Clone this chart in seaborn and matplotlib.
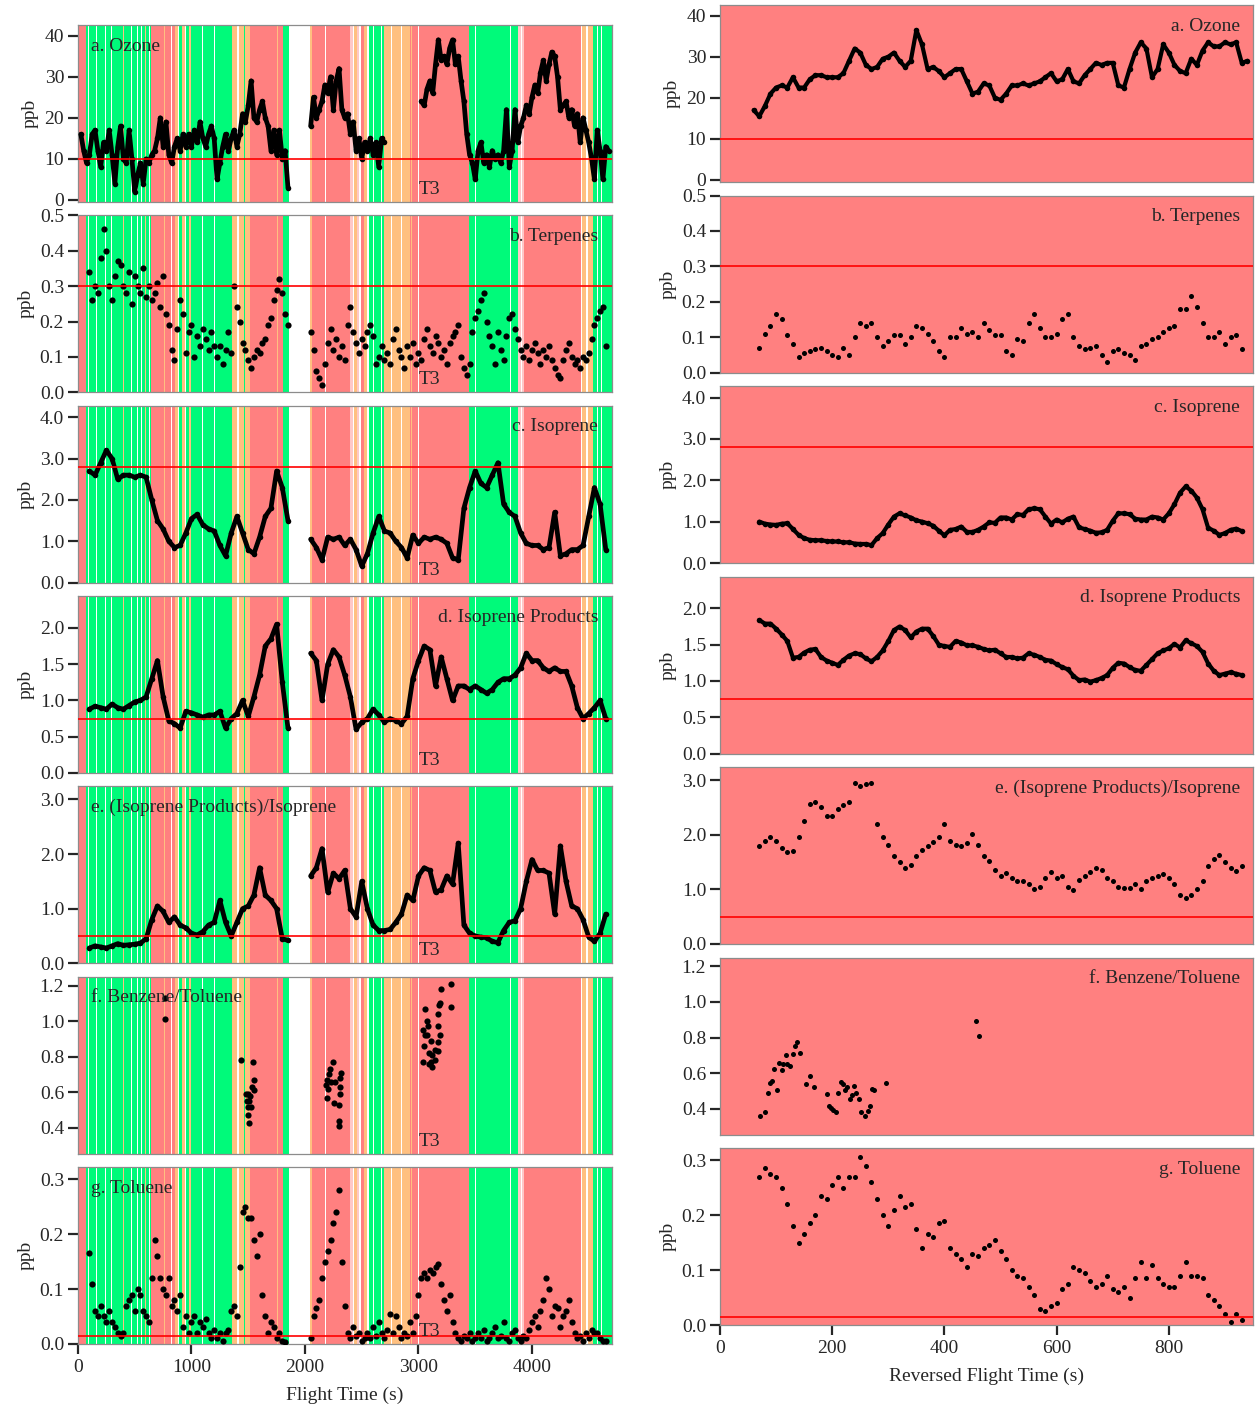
import numpy as np
import pandas as pd
import matplotlib
matplotlib.use("Agg")
import matplotlib.pyplot as plt
from matplotlib.ticker import FormatStrFormatter
import seaborn as sns

sns.set_style("ticks")
plt.rcParams["font.family"] = ["Liberation Serif", "DejaVu Serif"]
plt.rcParams["font.size"] = 14

# ---------------- left column: flight time (s) ----------------
# each series: segment start times, sampling step, values per segment
ozone_L_start = [25, 2050, 3025]
ozone_L_step = 25
ozone_L = [
    [16, 12, 9, 11, 16, 17, 12, 8, 14, 12, 17, 11, 4, 13, 18, 10, 9, 17, 10, 2, 6, 9, 4,
     10, 9, 11, 12, 15, 20, 13, 19, 11, 9, 13, 15, 12, 16, 13, 16, 13, 17, 14, 19, 15,
     13, 16, 18, 15, 5, 9, 13, 16, 12, 15, 17, 13, 16, 21, 19, 23, 29, 20, 19, 22, 24,
     20, 18, 12, 17, 11, 17, 10, 12, 3],
    [18, 25, 20, 22, 24, 28, 26, 30, 22, 29, 32, 22, 20, 21, 16, 19, 12, 15, 10, 14, 12,
     15, 11, 14, 8, 15, 14],
    [24, 23, 27, 29, 26, 33, 39, 34, 35, 33, 37, 39, 33, 35, 29, 24, 16, 11, 9, 5, 12, 14,
     9, 11, 8, 12, 10, 11, 9, 12, 22, 8, 12, 22, 14, 18, 20, 23, 21, 25, 28, 26, 31, 34,
     29, 33, 36, 35, 30, 22, 23, 24, 20, 22, 18, 21, 14, 20, 17, 14, 10, 5, 17, 12, 5,
     13, 12],
]

terp_L_start = [100, 2050]
terp_L_step = 25
terp_L = [
    [0.34, 0.26, 0.30, 0.28, 0.38, 0.46, 0.40, 0.30, 0.26, 0.33, 0.37, 0.36, 0.30, 0.28,
     0.34, 0.25, 0.33, 0.30, 0.28, 0.35, 0.27, 0.30, 0.26, 0.28, 0.31, 0.24, 0.33, 0.22,
     0.19, 0.12, 0.09, 0.18, 0.26, 0.22, 0.11, 0.17, 0.19, 0.10, 0.16, 0.13, 0.18, 0.15,
     0.12, 0.17, 0.13, 0.10, 0.13, 0.08, 0.12, 0.17, 0.11, 0.30, 0.24, 0.20, 0.14, 0.12,
     0.09, 0.07, 0.10, 0.12, 0.11, 0.14, 0.15, 0.19, 0.21, 0.26, 0.29, 0.32, 0.28, 0.22, 0.19],
    [0.17, 0.12, 0.06, 0.04, 0.02, 0.08, 0.14, 0.18, 0.12, 0.15, 0.10, 0.13, 0.09, 0.19,
     0.24, 0.17, 0.14, 0.11, 0.15, 0.13, 0.17, 0.19, 0.16, 0.08, 0.10, 0.13, 0.09, 0.11,
     0.08, 0.15, 0.18, 0.12, 0.10, 0.07, 0.13, 0.10, 0.14, 0.08, 0.11, 0.09, 0.15, 0.18,
     0.13, 0.11, 0.16, 0.14, 0.10, 0.12, 0.08, 0.14, 0.16, 0.17, 0.19, 0.10, 0.07, 0.05,
     0.08, 0.17, 0.21, 0.23, 0.26, 0.28, 0.20, 0.16, 0.13, 0.08, 0.17, 0.12, 0.09, 0.16,
     0.21, 0.22, 0.18, 0.15, 0.12, 0.10, 0.13, 0.09, 0.12, 0.14, 0.11, 0.08, 0.12, 0.10,
     0.13, 0.09, 0.07, 0.05, 0.04, 0.09, 0.12, 0.14, 0.10, 0.08, 0.09, 0.07, 0.10, 0.09,
     0.11, 0.15, 0.19, 0.21, 0.23, 0.24, 0.13],
]

isop_L_start = [100, 2050]
isop_L_step = 50
isop_L = [
    [2.7, 2.6, 2.9, 3.2, 3.0, 2.5, 2.6, 2.6, 2.55, 2.6, 2.55, 2.0, 1.5, 1.3, 1.0, 0.85,
     0.9, 1.2, 1.55, 1.65, 1.4, 1.3, 1.25, 0.9, 0.65, 1.2, 1.6, 1.2, 0.8, 0.7, 1.1, 1.6,
     1.8, 2.7, 2.3, 1.5],
    [1.05, 0.85, 0.55, 1.1, 1.05, 1.1, 0.9, 1.05, 0.8, 0.4, 0.7, 1.2, 1.6, 1.25, 1.2,
     1.0, 0.85, 0.6, 1.15, 0.95, 1.1, 1.05, 1.1, 1.05, 0.95, 0.6, 0.55, 1.8, 2.3, 2.7,
     2.4, 2.3, 2.6, 2.9, 1.9, 1.7, 1.6, 1.2, 0.95, 0.9, 0.9, 0.8, 0.85, 1.7, 0.65, 0.7,
     0.8, 0.8, 0.9, 1.6, 2.3, 1.9, 0.8],
]

prod_L_start = [100, 2050]
prod_L_step = 50
prod_L = [
    [0.88, 0.92, 0.9, 0.88, 0.95, 0.9, 0.88, 0.93, 0.98, 1.0, 1.05, 1.3, 1.55, 1.05,
     0.72, 0.68, 0.62, 0.85, 0.83, 0.8, 0.77, 0.8, 0.8, 0.85, 0.62, 0.75, 0.82, 1.0,
     0.78, 1.05, 1.35, 1.75, 1.85, 2.05, 1.25, 0.62],
    [1.65, 1.55, 1.0, 1.5, 1.7, 1.6, 1.35, 1.05, 0.6, 0.7, 0.75, 0.88, 0.8, 0.7, 0.75,
     0.72, 0.68, 0.78, 1.3, 1.55, 1.75, 1.7, 1.2, 1.6, 1.3, 1.0, 1.2, 1.2, 1.15, 1.2,
     1.15, 1.1, 1.15, 1.25, 1.3, 1.3, 1.35, 1.45, 1.65, 1.55, 1.55, 1.45, 1.4, 1.45,
     1.4, 1.4, 1.2, 0.9, 0.75, 0.82, 0.9, 1.0, 0.75],
]

ratio_L_start = [100, 2050]
ratio_L_step = 50
ratio_L = [
    [0.28, 0.32, 0.3, 0.28, 0.32, 0.36, 0.33, 0.34, 0.35, 0.37, 0.45, 0.8, 1.05, 0.95,
     0.75, 0.85, 0.7, 0.65, 0.55, 0.52, 0.58, 0.7, 0.75, 1.15, 0.75, 0.5, 0.75, 1.0,
     1.05, 1.25, 1.75, 1.25, 1.15, 1.0, 0.45, 0.42],
    [1.6, 1.75, 2.1, 1.3, 1.65, 1.55, 1.7, 1.0, 0.85, 1.5, 1.0, 0.7, 0.6, 0.6, 0.62,
     0.75, 0.9, 1.25, 1.15, 1.6, 1.75, 1.7, 1.3, 1.35, 1.6, 1.45, 2.2, 0.7, 0.55, 0.5,
     0.48, 0.47, 0.4, 0.38, 0.6, 0.75, 0.78, 1.0, 1.5, 1.9, 1.7, 1.7, 1.65, 0.9, 2.15,
     1.5, 1.05, 1.0, 0.8, 0.48, 0.4, 0.55, 0.9],
]

bt_L_time = [765, 765, 1437, 1541, 1478, 1496, 1506, 1496, 1520, 1499, 1506, 1548, 1534,
             1548, 1513, 1485, 2243, 2209, 2191, 2226, 2181, 2202, 2191, 2254, 2313, 2306,
             2306, 2306, 2296, 2296, 2296, 2216, 2264, 3037, 3061, 3071, 3085, 3043, 3061,
             3078, 3050, 3113, 3096, 3120, 3113, 3096, 3120, 3148, 3169, 3176, 3169, 3176,
             3183, 3190, 3200, 3190, 3287, 3287, 3144]
bt_L = [1.01, 1.13, 0.78, 0.77, 0.59, 0.59, 0.55, 0.52, 0.52, 0.47, 0.43, 0.67, 0.63,
        0.61, 0.58, 0.55, 0.77, 0.70, 0.67, 0.66, 0.64, 0.62, 0.57, 0.54, 0.71, 0.68,
        0.63, 0.59, 0.53, 0.44, 0.41, 0.73, 0.66, 0.77, 1.07, 1.00, 0.97, 0.95, 0.92,
        0.92, 0.86, 0.89, 0.82, 0.81, 0.77, 0.76, 0.74, 0.78, 0.83, 0.88, 0.97, 1.04,
        1.09, 1.10, 1.18, 0.92, 1.21, 1.08, 0.84]

tol_L_start = [100, 2050]
tol_L_step = 25
tol_L = [
    [0.165, 0.11, 0.06, 0.05, 0.07, 0.05, 0.04, 0.06, 0.04, 0.03, 0.02, 0.015, 0.02,
     0.07, 0.08, 0.09, 0.06, 0.1, 0.09, 0.06, 0.05, 0.04, 0.12, 0.19, 0.16, 0.12, 0.1,
     0.09, 0.12, 0.07, 0.08, 0.06, 0.09, 0.03, 0.05, 0.02, 0.04, 0.05, 0.02, 0.04, 0.03,
     0.045, 0.02, 0.01, 0.025, 0.01, 0.02, 0.005, 0.02, 0.025, 0.06, 0.07, 0.05, 0.14,
     0.24, 0.25, 0.23, 0.23, 0.19, 0.16, 0.2, 0.09, 0.05, 0.02, 0.04, 0.03, 0.01, 0.02,
     0.005, 0.003],
    [0.01, 0.05, 0.065, 0.08, 0.12, 0.15, 0.17, 0.19, 0.22, 0.24, 0.28, 0.15, 0.07,
     0.02, 0.01, 0.03, 0.015, 0.02, 0.005, 0.01, 0.02, 0.01, 0.03, 0.015, 0.04, 0.02,
     0.01, 0.025, 0.055, 0.02, 0.05, 0.03, 0.01, 0.02, 0.015, 0.04, 0.02, 0.05, 0.09,
     0.12, 0.13, 0.12, 0.135, 0.13, 0.14, 0.145, 0.11, 0.08, 0.06, 0.09, 0.04, 0.02,
     0.01, 0.005, 0.015, 0.01, 0.02, 0.005, 0.01, 0.02, 0.01, 0.025, 0.005, 0.01, 0.02,
     0.03, 0.01, 0.015, 0.04, 0.01, 0.005, 0.02, 0.025, 0.01, 0.005, 0.015, 0.01, 0.025,
     0.04, 0.05, 0.03, 0.06, 0.08, 0.12, 0.1, 0.05, 0.07, 0.065, 0.03, 0.05, 0.06, 0.08,
     0.04, 0.02, 0.01, 0.015, 0.005, 0.02, 0.01, 0.025, 0.02, 0.02, 0.01, 0.005, 0.005],
]

# background classification along the flight (start, end, class)
bg_start = [0, 70, 643, 852, 1026, 1357, 1513, 1809, 2042, 2065, 2400, 2643, 2922, 3443,
            3878, 3930, 4435, 4539,
            92, 120, 160, 240, 292, 360, 398, 468, 520, 556, 590, 625, 710, 760, 820, 885,
            892, 945, 952, 995, 1095, 1200, 1268, 1320, 1405, 1460, 1750, 1795, 2085, 2180,
            2420, 2435, 2480, 2495, 2520, 2545, 2560, 2600, 2610, 2643, 2670, 2760, 2850,
            2935, 3000, 3500, 3550, 3810, 3900, 4435, 4480, 4575, 4610]
bg_end = [70, 643, 852, 1026, 1357, 1513, 1809, 1861, 2065, 2400, 2643, 2922, 3443, 3878,
          3930, 4435, 4539, 4720,
          97, 126, 164, 245, 297, 364, 403, 473, 525, 560, 595, 630, 716, 765, 826, 892,
          920, 952, 975, 1026, 1100, 1205, 1273, 1325, 1418, 1475, 1760, 1800, 2090, 2185,
          2435, 2460, 2495, 2520, 2545, 2560, 2600, 2610, 2643, 2700, 2675, 2765, 2855,
          2945, 3005, 3505, 3555, 3815, 3910, 4445, 4490, 4580, 4615]
bg_kind = ["r", "g", "r", "o", "g", "o", "r", "g", "o", "r", "p", "o", "r", "g",
           "p", "r", "o", "g",
           "w", "o", "w", "w", "w", "w", "o", "w", "w", "w", "o", "w", "w", "o", "w", "w",
           "g", "w", "g", "g", "w", "w", "w", "w", "w", "g", "o", "w", "w", "w",
           "w", "o", "w", "r", "o", "w", "g", "w", "g", "g", "w", "w", "w",
           "o", "w", "w", "w", "w", "w", "w", "w", "w", "w"]
bg_colors = {"r": "#FF8080", "g": "#00FA7A", "o": "#FFC080", "w": "#FFFFFF", "p": "#FFC8C8"}

# ---------------- right column: reversed flight time (s) ----------------
ozone_R_start = 60
ozone_R = [17, 15.5, 18, 21, 22.5, 23, 22.5, 25, 22.5, 22.5, 24.5, 25.5, 25.5, 25, 25, 25,
           26, 29, 32, 31, 28, 27, 27.5, 29.5, 30, 31, 29, 27.5, 29, 36.5, 33, 27, 27.5,
           26.5, 25, 26, 27, 27, 24, 21, 21.5, 23.5, 23, 20, 19.5, 21, 23, 23, 23.5, 23,
           23.5, 24, 25, 26, 24, 24.5, 27, 24, 23.5, 25.5, 27, 28.5, 28, 28.5, 28.5, 23,
           22.5, 27, 31, 33.5, 32, 25, 27, 33, 31, 28, 26.5, 26, 29.5, 28, 31.5, 33.5,
           32.5, 32.5, 33.5, 33, 33.5, 28.5, 29]
terp_R = [0.07, 0.11, 0.13, 0.165, 0.15, 0.105, 0.08, 0.045, 0.055, 0.06, 0.065, 0.07,
          0.06, 0.05, 0.045, 0.07, 0.05, 0.1, 0.14, 0.13, 0.14, 0.1, 0.075, 0.09, 0.105,
          0.105, 0.08, 0.1, 0.13, 0.125, 0.11, 0.09, 0.06, 0.045, 0.1, 0.1, 0.125, 0.11,
          0.115, 0.1, 0.14, 0.12, 0.105, 0.105, 0.06, 0.05, 0.095, 0.09, 0.14, 0.165,
          0.125, 0.1, 0.1, 0.11, 0.15, 0.165, 0.1, 0.075, 0.065, 0.07, 0.075, 0.05, 0.03,
          0.06, 0.065, 0.055, 0.05, 0.035, 0.075, 0.08, 0.095, 0.1, 0.115, 0.125, 0.13,
          0.18, 0.18, 0.215, 0.185, 0.14, 0.1, 0.1, 0.115, 0.08, 0.1, 0.105, 0.065]
isop_R = [1.0, 0.95, 0.93, 0.92, 0.95, 0.96, 0.82, 0.68, 0.6, 0.56, 0.55, 0.55, 0.53,
          0.52, 0.52, 0.5, 0.5, 0.47, 0.46, 0.46, 0.43, 0.6, 0.72, 0.93, 1.12, 1.2, 1.15,
          1.1, 1.03, 1.0, 0.96, 0.9, 0.78, 0.67, 0.8, 0.82, 0.88, 0.75, 0.75, 0.8, 0.88,
          0.98, 0.97, 1.1, 1.1, 1.05, 1.18, 1.16, 1.3, 1.32, 1.3, 1.12, 0.95, 1.05, 0.98,
          1.07, 1.12, 0.86, 0.82, 0.78, 0.73, 0.74, 0.8, 1.02, 1.2, 1.2, 1.18, 1.07, 1.05,
          1.05, 1.12, 1.1, 1.05, 1.2, 1.42, 1.7, 1.85, 1.75, 1.58, 1.3, 0.85, 0.78, 0.68,
          0.72, 0.8, 0.83, 0.77]
prod_R = [1.84, 1.79, 1.79, 1.72, 1.64, 1.55, 1.32, 1.33, 1.39, 1.43, 1.44, 1.33, 1.28,
          1.25, 1.22, 1.29, 1.35, 1.38, 1.37, 1.31, 1.27, 1.33, 1.42, 1.55, 1.7, 1.75,
          1.7, 1.6, 1.68, 1.72, 1.72, 1.62, 1.5, 1.48, 1.47, 1.55, 1.53, 1.49, 1.49, 1.47,
          1.44, 1.42, 1.43, 1.38, 1.33, 1.33, 1.31, 1.32, 1.38, 1.36, 1.33, 1.29, 1.28,
          1.23, 1.19, 1.16, 1.07, 1.01, 1.02, 0.99, 1.01, 1.04, 1.08, 1.18, 1.25, 1.24,
          1.19, 1.15, 1.14, 1.22, 1.3, 1.38, 1.42, 1.45, 1.51, 1.46, 1.56, 1.52, 1.48,
          1.4, 1.24, 1.14, 1.08, 1.1, 1.12, 1.1, 1.08]
ratio_R = [1.8, 1.88, 1.95, 1.88, 1.75, 1.68, 1.7, 1.95, 2.25, 2.57, 2.6, 2.5, 2.35, 2.35,
           2.47, 2.55, 2.6, 2.95, 2.9, 2.92, 2.95, 2.2, 1.95, 1.82, 1.62, 1.5, 1.4, 1.45,
           1.62, 1.72, 1.8, 1.87, 1.95, 2.2, 1.88, 1.82, 1.8, 1.85, 2.02, 1.82, 1.62, 1.52,
           1.35, 1.25, 1.3, 1.2, 1.15, 1.15, 1.1, 1.0, 1.05, 1.2, 1.32, 1.2, 1.25, 1.05,
           0.98, 1.18, 1.25, 1.32, 1.4, 1.35, 1.2, 1.15, 1.05, 1.02, 1.03, 1.1, 1.0, 1.15,
           1.2, 1.25, 1.28, 1.2, 1.1, 0.9, 0.85, 0.9, 1.0, 1.15, 1.42, 1.55, 1.63, 1.5,
           1.4, 1.33, 1.42]
tol_R = [0.27, 0.285, 0.275, 0.27, 0.25, 0.22, 0.18, 0.15, 0.165, 0.185, 0.2, 0.235, 0.23,
         0.255, 0.27, 0.25, 0.27, 0.27, 0.305, 0.29, 0.26, 0.23, 0.2, 0.18, 0.21, 0.235,
         0.215, 0.22, 0.175, 0.14, 0.165, 0.16, 0.185, 0.19, 0.14, 0.13, 0.12, 0.105, 0.13,
         0.125, 0.14, 0.145, 0.155, 0.135, 0.12, 0.1, 0.09, 0.085, 0.07, 0.055, 0.03, 0.025,
         0.035, 0.04, 0.065, 0.075, 0.105, 0.1, 0.095, 0.08, 0.07, 0.075, 0.09, 0.065, 0.06,
         0.07, 0.05, 0.085, 0.115, 0.085, 0.11, 0.085, 0.075, 0.07, 0.07, 0.09, 0.115, 0.09,
         0.09, 0.085, 0.055, 0.045, 0.035, 0.02, 0.005, 0.02, 0.01]
R_start = 70
R_step = 10

bt_R_time = [72, 81, 85, 89, 92, 97, 102, 105, 110, 113, 118, 120, 125, 130, 134, 138, 142,
             154, 160, 167, 191, 195, 198, 202, 207, 211, 215, 219, 222, 226, 231, 235, 239,
             242, 247, 252, 259, 263, 268, 271, 275, 296, 457, 462]
bt_R = [0.358, 0.379, 0.486, 0.544, 0.553, 0.623, 0.503, 0.655, 0.615, 0.651, 0.700, 0.651,
        0.640, 0.708, 0.751, 0.775, 0.713, 0.538, 0.585, 0.523, 0.484, 0.414, 0.403, 0.395,
        0.382, 0.486, 0.550, 0.538, 0.504, 0.520, 0.452, 0.475, 0.527, 0.486, 0.452, 0.382,
        0.358, 0.388, 0.416, 0.512, 0.504, 0.542, 0.894, 0.807]

labels = ["a. Ozone", "b. Terpenes", "c. Isoprene", "d. Isoprene Products",
          "e. (Isoprene Products)/Isoprene", "f. Benzene/Toluene", "g. Toluene"]
thresholds = [10, 0.3, 2.8, 0.75, 0.5, None, 0.015]
ylims = [(-0.5, 42.6), (0, 0.5), (0, 4.28), (0, 2.44), (0, 3.24), (0.255, 1.25), (0, 0.322)]
yticks = [[0, 10, 20, 30, 40], [0.0, 0.1, 0.2, 0.3, 0.4, 0.5], [0, 1, 2, 3, 4],
          [0, 0.5, 1.0, 1.5, 2.0], [0, 1, 2, 3], [0.4, 0.6, 0.8, 1.0, 1.2], [0, 0.1, 0.2, 0.3]]
yfmt = ["%d", "%.1f", "%.1f", "%.1f", "%.1f", "%.1f", "%.1f"]
show_ppb = [True, True, True, True, False, False, True]
left_label_pos = ["l", "r", "r", "r", "l", "l", "l"]


def segments_df(starts, step, segs):
    frames = []
    for k, (s, vals) in enumerate(zip(starts, segs)):
        frames.append(pd.DataFrame({"t": s + step * np.arange(len(vals)),
                                    "v": vals, "seg": k}))
    return pd.concat(frames, ignore_index=True)


left_data = [
    ("line", segments_df(ozone_L_start, ozone_L_step, ozone_L)),
    ("dots", segments_df(terp_L_start, terp_L_step, terp_L)),
    ("line", segments_df(isop_L_start, isop_L_step, isop_L)),
    ("line", segments_df(prod_L_start, prod_L_step, prod_L)),
    ("line", segments_df(ratio_L_start, ratio_L_step, ratio_L)),
    ("dots", pd.DataFrame({"t": bt_L_time, "v": bt_L, "seg": 0})),
    ("dots", segments_df(tol_L_start, tol_L_step, tol_L)),
]
right_data = [
    ("line", segments_df([ozone_R_start], R_step, [ozone_R])),
    ("dots", segments_df([R_start], R_step, [terp_R])),
    ("line", segments_df([R_start], R_step, [isop_R])),
    ("line", segments_df([R_start], R_step, [prod_R])),
    ("dots", segments_df([R_start], R_step, [ratio_R])),
    ("dots", pd.DataFrame({"t": bt_R_time, "v": bt_R, "seg": 0})),
    ("dots", segments_df([R_start], R_step, [tol_R])),
]

W, H = 1255, 1409
fig = plt.figure(figsize=(W / 100, H / 100), dpi=100)


def style_axis(ax, i, xlim, xticks, xlabel):
    ax.set_xlim(*xlim)
    ax.set_ylim(*ylims[i])
    ax.set_yticks(yticks[i])
    ax.yaxis.set_major_formatter(FormatStrFormatter(yfmt[i]))
    for sp in ax.spines.values():
        sp.set_visible(True)
        sp.set_color("#8c8c8c")
        sp.set_linewidth(0.9)
    ax.tick_params(axis="y", direction="out", length=7, width=1.6, labelsize=14, pad=3)
    if i == 6:
        ax.set_xticks(xticks)
        ax.tick_params(axis="x", direction="out", length=7, width=1.6, labelsize=14)
        ax.set_xlabel(xlabel, fontsize=14, labelpad=8)
    else:
        ax.set_xticks([])
        ax.set_xlabel("")
    ax.set_ylabel("ppb" if show_ppb[i] else "", fontsize=14)


def draw_points(ax, kind, df, big):
    if kind == "line":
        sns.lineplot(data=df, x="t", y="v", units="seg", estimator=None, color="black",
                     lw=3.4 if big else 3.0, marker="o", markersize=4, markeredgewidth=0,
                     ax=ax, legend=False, zorder=3)
    else:
        sns.scatterplot(data=df, x="t", y="v", color="black", s=20 if big else 13,
                        linewidth=0, ax=ax, legend=False, zorder=3)


for i in range(7):
    # left column
    top = 25 + 190.33 * i
    axl = fig.add_axes([78 / W, 1 - (top + 177) / H, 534 / W, 177 / H])
    for s, e, k in zip(bg_start, bg_end, bg_kind):
        axl.axvspan(s, e, color=bg_colors[k], lw=0, zorder=0)
    kind, df = left_data[i]
    draw_points(axl, kind, df, True)
    if thresholds[i] is not None:
        axl.axhline(thresholds[i], color="#FF0000", lw=1.2, zorder=4)
    if left_label_pos[i] == "l":
        axl.text(0.024, 0.88, labels[i], transform=axl.transAxes, ha="left", va="center",
                 fontsize=14, zorder=5)
    else:
        axl.text(0.974, 0.88, labels[i], transform=axl.transAxes, ha="right", va="center",
                 fontsize=14, zorder=5)
    axl.text(3100, 0.07, "T3", transform=axl.get_xaxis_transform(), ha="center",
             va="center", fontsize=14, zorder=5)
    style_axis(axl, i, (0, 4705), [0, 1000, 2000, 3000, 4000], "Flight Time (s)")

    # right column
    top = 5 + 190.5 * i
    axr = fig.add_axes([720 / W, 1 - (top + 177) / H, 533 / W, 177 / H])
    axr.set_facecolor(bg_colors["r"])
    kind, df = right_data[i]
    draw_points(axr, kind, df, False)
    if thresholds[i] is not None:
        axr.axhline(thresholds[i], color="#FF0000", lw=1.2, zorder=4)
    axr.text(0.976, 0.88, labels[i], transform=axr.transAxes, ha="right", va="center",
             fontsize=14, zorder=5)
    style_axis(axr, i, (0, 950), [0, 200, 400, 600, 800], "Reversed Flight Time (s)")

fig.savefig("out.png", dpi=100)
